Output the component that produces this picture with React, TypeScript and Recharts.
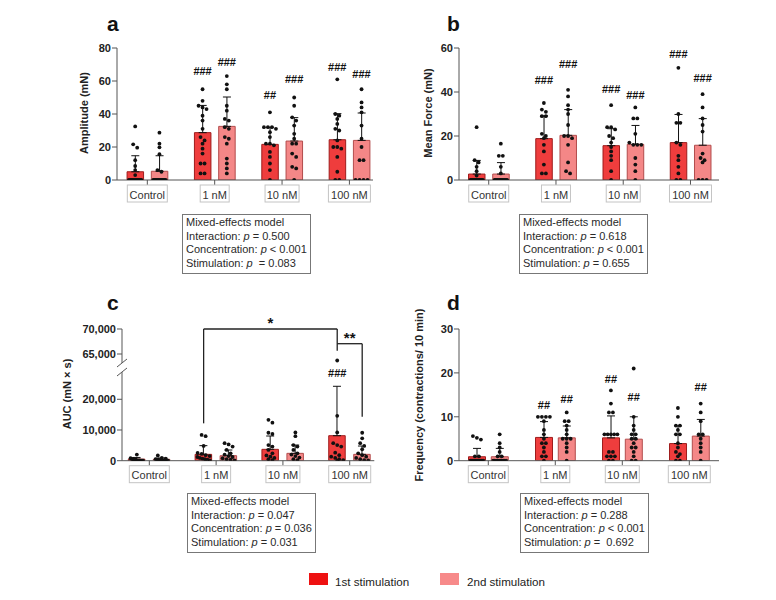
import React from "react";
import {
  Bar,
  Cell,
  ComposedChart,
  ErrorBar,
  ReferenceDot,
  ReferenceLine,
  Scatter,
  XAxis,
  YAxis,
} from "recharts";

const groups = ["Control", "1 nM", "10 nM", "100 nM"];

// a: amplitude (mN)
const ampMean1 = [5, 28.7, 21.6, 24.4];
const ampSd1 = [9.7, 16.5, 10.4, 15.8];
const ampMean2 = [5.3, 32.5, 23.6, 24];
const ampSd2 = [9.4, 17.8, 14.2, 16.6];
const ampPts1 = [
  [32.5, 21.6, 19.6, 12, 8.5, 6, 3, 0, 0, 0, 0, 0, 0, 0, 0, 0, 0, 0],
  [55, 48, 45, 44, 43, 39, 36, 31, 26, 24, 22, 19, 16, 10, 10, 4, 4],
  [41, 32, 32, 32, 31, 29, 26, 22, 22, 21, 17, 14, 10, 6, 0],
  [61, 40, 39, 37, 34, 31, 30, 24, 20, 20, 19, 14, 5, 0, 0],
];
const ampPts2 = [
  [28.7, 22, 19.8, 15.6, 6, 5, 0, 0, 0, 0, 0, 0, 0, 0, 0, 0, 0, 0],
  [63, 58, 55, 45, 42, 37, 36, 32, 31, 26, 25, 22, 13, 10, 7, 4],
  [50, 45, 38, 36, 33, 28, 25, 22, 22, 16, 14, 8, 7, 0],
  [55, 47, 44, 41, 33, 25, 20, 12, 12, 0, 0, 0, 0],
];
const ampHash1 = ["", "###", "##", "###"];
const ampHashAt1 = [0, 66, 51.3, 68.5];
const ampHash2 = ["", "###", "###", "###"];
const ampHashAt2 = [0, 71.5, 61, 64];

// b: mean force (mN)
const forceMean1 = [2.7, 18.8, 15.6, 17];
const forceSd1 = [6.2, 10.4, 7.7, 12.8];
const forceMean2 = [2.7, 20.3, 16.2, 15.8];
const forceSd2 = [5.2, 11.7, 8.6, 12.1];
const forcePts1 = [
  [24, 9, 8, 6, 4, 2, 0, 0, 0, 0, 0, 0, 0, 0, 0, 0, 0, 0],
  [35, 32, 31, 29, 29, 21, 20, 19, 16, 13, 7, 3, 3],
  [34, 24, 24, 23, 20, 19, 17, 15, 13, 11, 9, 4, 0],
  [51, 30, 26, 26, 17, 16, 11, 9, 6, 3, 0, 0],
];
const forcePts2 = [
  [16.5, 11, 11, 6, 3, 0, 0, 0, 0, 0, 0, 0, 0, 0, 0, 0, 0],
  [41, 38, 34, 32, 30, 25, 20, 20, 19, 16, 8, 4, 3],
  [33, 28, 28, 21, 17, 16, 16, 16, 10, 7, 4, 0],
  [39, 33, 28, 25, 22, 12, 10, 9, 8, 0, 0, 0],
];
const forceHash1 = ["", "###", "###", "###"];
const forceHashAt1 = [0, 45.6, 41.5, 57.4];
const forceHash2 = ["", "###", "###", "###"];
const forceHashAt2 = [0, 52.9, 38.5, 46.4];

// c: AUC (mN x s), broken axis
const aucMean1 = [500, 2065, 3700, 8150];
const aucSd1 = [550, 2835, 4340, 16090];
const aucMean2 = [450, 1630, 2390, 2065];
const aucSd2 = [450, 1850, 2710, 2715];
const aucPts1 = [
  [2000, 800, 600, 500, 400, 300, 200, 100, 0, 0, 0, 0, 0, 0],
  [8400, 8000, 4800, 2500, 2200, 1800, 1500, 1200, 900, 700, 500, 300, 100],
  [13300, 12400, 9100, 8700, 5100, 4600, 3500, 2400, 1700, 1300, 900, 500, 200],
  [63700, 14600, 9200, 5700, 5100, 4600, 2600, 1800, 1300, 900, 500, 200, 0],
];
const aucPts2 = [
  [1700, 900, 700, 500, 400, 300, 200, 100, 0, 0, 0, 0, 0],
  [5700, 5300, 4600, 3500, 2400, 2000, 1500, 1200, 800, 500, 300, 100],
  [9200, 8000, 5100, 4600, 3500, 2400, 2000, 1500, 1000, 500, 200],
  [9100, 7300, 5700, 4800, 3700, 2400, 1800, 1300, 900, 500, 200, 100],
];
const aucHash1 = ["", "", "", "###"];
const aucHashAt1 = [0, 0, 0, 28500];
const aucHash2 = ["", "", "", ""];
const aucHashAt2 = [0, 0, 0, 0];
const aucTicks = [0, 10000, 20000, 65000, 70000];

// d: frequency (contractions / 10 min)
const freqMean1 = [0.9, 5.3, 5.2, 3.9];
const freqSd1 = [1.9, 3.6, 5, 4];
const freqMean2 = [0.9, 5.2, 4.9, 5.6];
const freqSd2 = [1.9, 2.7, 5.1, 3.8];
const freqPts1 = [
  [5.6, 5.2, 4.8, 1, 1, 0, 0, 0, 0, 0, 0, 0, 0, 0, 0, 0, 0],
  [10, 10, 10, 10, 9, 7, 6, 5, 4, 4, 3, 2, 1, 1, 0],
  [16, 13, 11, 11, 6, 6, 6, 6, 6, 2, 2, 1, 1, 1, 0, 0],
  [12, 10, 8, 8, 7, 6, 6, 4, 3, 2, 1.5, 1, 0, 0],
];
const freqPts2 = [
  [6, 4, 3, 2, 1, 1, 0, 0, 0, 0, 0, 0, 0, 0, 0, 0],
  [11, 9, 9, 8, 7, 6, 5, 5, 5, 4, 3, 2, 0],
  [21, 10, 8, 7, 6, 6, 5, 5, 4, 3, 3, 2, 1, 0, 0],
  [13, 11, 9, 6, 6, 5, 4, 3, 2, 0],
];
const freqHash1 = ["", "##", "##", ""];
const freqHashAt1 = [0, 12.8, 18.5, 0];
const freqHash2 = ["", "##", "##", "##"];
const freqHashAt2 = [0, 14, 14.4, 16.7];

const statsA = [["Interaction", "= 0.500"], ["Concentration", "< 0.001"], ["Stimulation", " = 0.083"]];
const statsB = [["Interaction", "= 0.618"], ["Concentration", "< 0.001"], ["Stimulation", "= 0.655"]];
const statsC = [["Interaction", "= 0.047"], ["Concentration", "= 0.036"], ["Stimulation", "= 0.031"]];
const statsD = [["Interaction", "= 0.288"], ["Concentration", "< 0.001"], ["Stimulation", "=  0.692"]];

const FONT = "'Liberation Sans', Arial, sans-serif";
const FILL = ["#ef3d3d", "#f48787"];
const EDGE = ["#9e1c1c", "#b24c4c"];
const boxW: Record<string, number> = { Control: 40, "1 nM": 29, "10 nM": 34, "100 nM": 42 };

// broken axis for AUC: lower part linear, upper part compressed onto it
const aucDisplay = (v: number) => (v <= 29000 ? v : 34756 + (v - 65000) * 1.629);
const aucTop = aucDisplay(70000);

type Series = { mean: number[]; sd: number[]; pts: number[][]; hash: string[]; hashAt: number[] };
type Layout = { x0: number; x1: number; y0: number; y1: number; start: number; span: number; half: number; barW: number };

function CatTick(props: any) {
  const { x, y, index } = props;
  const label = groups[index];
  const w = boxW[label] ?? 36;
  return (
    <g>
      <rect x={x - w / 2} y={y - 2} width={w} height={17} fill="#fff" stroke="#c4c4c4" />
      <text x={x} y={y + 11.5} textAnchor="middle" fontSize={11} fill="#333" fontFamily={FONT}>
        {label}
      </text>
    </g>
  );
}

const Dot = (p: any) => <circle cx={p.cx} cy={p.cy} r={1.9} fill="#111" />;
const Hash = (p: any) => (
  <text x={p.cx} y={p.cy + 4} textAnchor="middle" fontSize={11} fontWeight={700} fill="#111" fontFamily={FONT}>
    {p.payload.t}
  </text>
);

function Panel({
  lay,
  yMax,
  yTicks,
  s1,
  s2,
  tf = (v: number) => v,
  tickFmt,
  broken = false,
  children,
}: {
  lay: Layout;
  yMax: number;
  yTicks: number[];
  s1: Series;
  s2: Series;
  tf?: (v: number) => number;
  tickFmt?: (v: number, i: number) => string;
  broken?: boolean;
  children?: React.ReactNode;
}) {
  const plotW = lay.x1 - lay.x0;
  const plotH = lay.y1 - lay.y0;
  const pxPerUnit = plotW / lay.span;
  const thr = (3.6 * yMax) / plotH;
  const slots: any[] = [];
  const dots: any[] = [];
  const marks: any[] = [];
  groups.forEach((_, i) => {
    [s1, s2].forEach((s, k) => {
      const x = lay.start + i + (k === 0 ? -lay.half : lay.half);
      const m = tf(s.mean[i]);
      slots.push({ x, mean: m, err: [0, tf(s.mean[i] + s.sd[i]) - m], k });
      // spread points that sit close together across the bar
      const vals = s.pts[i].map(tf).sort((a, b) => b - a);
      const rows: number[][] = [];
      vals.forEach((v) => {
        const last = rows[rows.length - 1];
        if (last && Math.abs(last[0] - v) <= thr) last.push(v);
        else rows.push([v]);
      });
      rows.forEach((row) => {
        const n = row.length;
        const sp = n > 1 ? Math.min(4, (lay.barW - 4) / (n - 1)) : 0;
        row.forEach((v, j) => {
          dots.push({ x: x + ((j - (n - 1) / 2) * sp) / pxPerUnit, y: v });
        });
      });
      if (s.hash[i]) marks.push({ x, y: s.hashAt[i], t: s.hash[i] });
    });
  });

  return (
    <div style={{ position: "absolute", left: lay.x0 - 60, top: lay.y0 - 20 }}>
      <ComposedChart
        width={plotW + 70}
        height={plotH + 50}
        data={slots}
        margin={{ top: 20, right: 10, left: 0, bottom: 0 }}
      >
        <XAxis
          dataKey="x"
          type="number"
          domain={[0, lay.span]}
          ticks={groups.map((_, i) => lay.start + i)}
          interval={0}
          tick={(p: any) => <CatTick {...p} />}
          tickSize={5}
          height={30}
          stroke="#555"
          allowDataOverflow
        />
        <XAxis xAxisId="pts" dataKey="x" type="number" domain={[0, lay.span]} hide allowDataOverflow />
        <YAxis
          type="number"
          domain={[0, yMax]}
          ticks={yTicks}
          interval={0}
          width={60}
          tickSize={5}
          tickMargin={1}
          tick={{ fontSize: 11, fontWeight: 700, fill: "#222", fontFamily: FONT }}
          tickFormatter={tickFmt}
          stroke="#555"
          axisLine={!broken}
          allowDataOverflow
        />
        <Bar dataKey="mean" barSize={lay.barW} isAnimationActive={false}>
          {slots.map((s, i) => (
            <Cell key={i} fill={FILL[s.k]} stroke={EDGE[s.k]} strokeWidth={1} />
          ))}
          <ErrorBar dataKey="err" width={4} stroke="#111" strokeWidth={1} direction="y" />
        </Bar>
        <Scatter xAxisId="pts" data={dots} dataKey="y" shape={Dot} isAnimationActive={false} />
        <Scatter xAxisId="pts" data={marks} dataKey="y" shape={Hash} isAnimationActive={false} />
        {children}
      </ComposedChart>
    </div>
  );
}

function Stats({ left, top, rows }: { left: number; top: number; rows: string[][] }) {
  return (
    <div
      style={{
        position: "absolute",
        left,
        top,
        border: "1px solid #777",
        padding: "1px 3px 2px 3px",
        fontSize: 11,
        lineHeight: "13.7px",
        color: "#2a2a2a",
        whiteSpace: "pre",
        background: "#fff",
      }}
    >
      <div>Mixed-effects model</div>
      {rows.map(([name, rest]) => (
        <div key={name}>
          {name}: <i>p</i> {rest}
        </div>
      ))}
    </div>
  );
}

function AxisTitle({ cx, cy, text }: { cx: number; cy: number; text: string }) {
  return (
    <div
      style={{
        position: "absolute",
        left: cx,
        top: cy,
        transform: "translate(-50%, -50%) rotate(-90deg)",
        fontSize: 11,
        fontWeight: 700,
        color: "#222",
        whiteSpace: "nowrap",
      }}
    >
      {text}
    </div>
  );
}

function Letter({ left, top, text }: { left: number; top: number; text: string }) {
  return (
    <div style={{ position: "absolute", left, top, fontSize: 21, fontWeight: 700, lineHeight: "21px", color: "#111" }}>
      {text}
    </div>
  );
}

const BreakMark = (p: any) => (
  <g stroke="#555" strokeWidth={1}>
    <line x1={p.cx - 5} y1={p.cy - 0.5} x2={p.cx + 5} y2={p.cy - 8.5} />
    <line x1={p.cx - 5} y1={p.cy + 8.5} x2={p.cx + 5} y2={p.cy + 0.5} />
  </g>
);

const Stars = (text: string) => (p: any) => (
  <text x={p.cx} y={p.cy - 1} textAnchor="middle" fontSize={15} fontWeight={700} fill="#111" fontFamily={FONT}>
    {text}
  </text>
);

export default function App() {
  const layA: Layout = { x0: 117, x1: 373, y0: 47.7, y1: 179.7, start: 0.45, span: 3.8, half: 0.18, barW: 16.5 };
  const layB: Layout = { x0: 459, x1: 719, y0: 47.7, y1: 179.7, start: 0.442, span: 3.866, half: 0.18, barW: 16.5 };
  const layC: Layout = { x0: 121.7, x1: 374, y0: 329, y1: 460.7, start: 0.409, span: 3.777, half: 0.187, barW: 16.5 };
  const layD: Layout = { x0: 459, x1: 719, y0: 329, y1: 460.7, start: 0.437, span: 3.88, half: 0.17, barW: 17 };

  const c1 = layC.start + 1 - layC.half;
  const c3a = layC.start + 3 - layC.half;
  const c3b = layC.start + 3 + layC.half;
  const starTop = aucDisplay(70000);
  const legTop = aucDisplay(65630);
  const dblTop = aucDisplay(67060);

  return (
    <div
      style={{
        position: "absolute",
        left: 0,
        top: 0,
        width: 776,
        height: 600,
        background: "#fff",
        fontFamily: FONT,
        overflow: "hidden",
      }}
    >
      <Letter left={107} top={13} text="a" />
      <Letter left={447} top={13} text="b" />
      <Letter left={107} top={292} text="c" />
      <Letter left={447} top={292} text="d" />

      <AxisTitle cx={84} cy={113} text="Amplitude (mN)" />
      <AxisTitle cx={428} cy={113} text="Mean Force (mN)" />
      <AxisTitle cx={67} cy={394} text="AUC (mN × s)" />
      <AxisTitle cx={419} cy={395} text="Frequency (contractions/ 10 min)" />

      <Panel
        lay={layA}
        yMax={80}
        yTicks={[0, 20, 40, 60, 80]}
        s1={{ mean: ampMean1, sd: ampSd1, pts: ampPts1, hash: ampHash1, hashAt: ampHashAt1 }}
        s2={{ mean: ampMean2, sd: ampSd2, pts: ampPts2, hash: ampHash2, hashAt: ampHashAt2 }}
      />
      <Panel
        lay={layB}
        yMax={60}
        yTicks={[0, 20, 40, 60]}
        s1={{ mean: forceMean1, sd: forceSd1, pts: forcePts1, hash: forceHash1, hashAt: forceHashAt1 }}
        s2={{ mean: forceMean2, sd: forceSd2, pts: forcePts2, hash: forceHash2, hashAt: forceHashAt2 }}
      />
      <Panel
        lay={layC}
        yMax={aucTop}
        yTicks={aucTicks.map(aucDisplay)}
        tf={aucDisplay}
        tickFmt={(_v, i) => aucTicks[i].toLocaleString("en-US")}
        broken
        s1={{ mean: aucMean1, sd: aucSd1, pts: aucPts1, hash: aucHash1, hashAt: aucHashAt1 }}
        s2={{ mean: aucMean2, sd: aucSd2, pts: aucPts2, hash: aucHash2, hashAt: aucHashAt2 }}
      >
        <ReferenceLine segment={[{ x: 0, y: 0 }, { x: 0, y: 28900 }]} stroke="#555" ifOverflow="visible" />
        <ReferenceLine segment={[{ x: 0, y: aucDisplay(63200) }, { x: 0, y: aucTop }]} stroke="#555" ifOverflow="visible" />
        <ReferenceDot x={0} y={30360} r={0} shape={BreakMark} ifOverflow="visible" />
        <ReferenceLine segment={[{ x: c1, y: 12170 }, { x: c1, y: starTop }]} stroke="#222" strokeWidth={1.3} ifOverflow="visible" />
        <ReferenceLine segment={[{ x: c1, y: starTop }, { x: c3a, y: starTop }]} stroke="#222" strokeWidth={1.3} ifOverflow="visible" />
        <ReferenceLine segment={[{ x: c3a, y: starTop }, { x: c3a, y: legTop }]} stroke="#222" strokeWidth={1.3} ifOverflow="visible" />
        <ReferenceLine segment={[{ x: c3a, y: dblTop }, { x: c3b, y: dblTop }]} stroke="#222" strokeWidth={1.3} ifOverflow="visible" />
        <ReferenceLine segment={[{ x: c3b, y: dblTop }, { x: c3b, y: 14350 }]} stroke="#222" strokeWidth={1.3} ifOverflow="visible" />
        <ReferenceDot x={(c1 + c3a) / 2} y={starTop} r={0} shape={Stars("*")} ifOverflow="visible" />
        <ReferenceDot x={(c3a + c3b) / 2} y={dblTop} r={0} shape={Stars("**")} ifOverflow="visible" />
      </Panel>
      <Panel
        lay={layD}
        yMax={30}
        yTicks={[0, 10, 20, 30]}
        s1={{ mean: freqMean1, sd: freqSd1, pts: freqPts1, hash: freqHash1, hashAt: freqHashAt1 }}
        s2={{ mean: freqMean2, sd: freqSd2, pts: freqPts2, hash: freqHash2, hashAt: freqHashAt2 }}
      />

      <Stats left={182} top={214} rows={statsA} />
      <Stats left={519} top={214} rows={statsB} />
      <Stats left={187} top={493} rows={statsC} />
      <Stats left={520} top={493} rows={statsD} />

      <div style={{ position: "absolute", left: 309, top: 573, width: 19, height: 12, background: "#ee1111" }} />
      <div style={{ position: "absolute", left: 335, top: 575, fontSize: 11.6, color: "#222", lineHeight: "14px" }}>
        1st stimulation
      </div>
      <div style={{ position: "absolute", left: 440, top: 573, width: 19, height: 12, background: "#f78a8a" }} />
      <div style={{ position: "absolute", left: 467, top: 575, fontSize: 11.6, color: "#222", lineHeight: "14px" }}>
        2nd stimulation
      </div>
    </div>
  );
}
